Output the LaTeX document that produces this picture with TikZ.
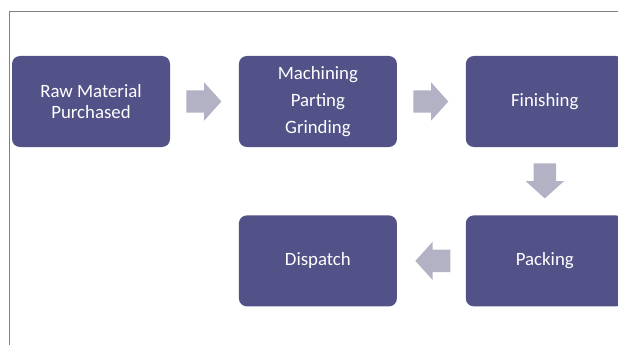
\documentclass[tikz,border=0pt]{standalone}
\usepackage{fontspec}
\setmainfont{Carlito}
\usetikzlibrary{positioning}
\usetikzlibrary{shapes.arrows}
\usetikzlibrary{calc}
\definecolor{boxblue}{RGB}{82,82,136}
\definecolor{arrowgrey}{RGB}{178,178,196}
\definecolor{framegrey}{RGB}{128,128,128}

\begin{document}
\begin{tikzpicture}[x=1pt,y=-1pt,
	stage/.style={rectangle,rounded corners=8pt,fill=boxblue,text=white,font=\fontsize{18.8}{21}\selectfont,align=center,minimum width=158pt,minimum height=91pt,inner sep=2pt},
	flow/.style={single arrow,anchor=tail,fill=arrowgrey,draw=none,minimum height=35pt,inner xsep=0pt,inner ysep=11pt,single arrow head extend=8pt,single arrow tip angle=96},
	node distance=68pt and 68.5pt]
	\useasboundingbox (0,0) rectangle (618,345);
	\clip (0,0) rectangle (618,345);
	\draw[framegrey,line width=0.8pt] (9,346) |- (619,11);
	\node[stage] (S0) at (91,101.5) {Raw Material\\Purchased};
	\node[stage, right=of S0] (S1) {Machining\\[6pt]Parting\\[6pt]Grinding};
	\node[stage, right=of S1] (S2) {Finishing};
	\node[stage, below=of S2] (S3) {Packing};
	\node[stage, left=of S3] (S4) {Dispatch};
	\node[flow] (A0) at ($(S0.east)!16pt!(S1.west)$) {};
	\node[flow] (A1) at ($(S1.east)!16pt!(S2.west)$) {};
	\node[flow, rotate=-90] (A2) at ($(S2.south)!16pt!(S3.north)$) {};
	\node[flow, rotate=180] (A3) at ($(S3.west)!15pt!(S4.east)$) {};
\end{tikzpicture}
\end{document}
